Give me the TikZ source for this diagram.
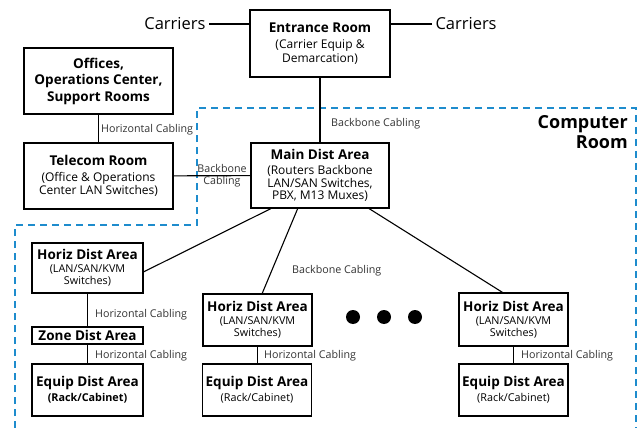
\documentclass[tikz,border=0pt]{standalone}
\usepackage{fontspec}
\setmainfont{Open Sans}
\usepackage{xcolor}
\definecolor{roomblue}{RGB}{30,140,205}
% text sizes used inside the boxes
\newcommand{\ttl}[1]{{\fontsize{13.5}{15}\selectfont\bfseries #1}}
\newcommand{\subt}[1]{{\fontsize{12}{13}\selectfont #1}}
\newcommand{\smallt}[1]{{\fontsize{10.8}{12}\selectfont #1}}

\begin{document}
\begin{tikzpicture}[x=1pt, y=-1pt,
  box/.style={draw, line width=1.1pt, align=center, inner sep=0pt},
  wire/.style={line width=1.1pt},
  lbl/.style={font=\fontsize{10.7}{12}\selectfont, text=black!80, inner sep=1pt},
  room/.style={draw=roomblue, line width=2.4pt, dash pattern=on 7pt off 5pt}]

\useasboundingbox (0,0) rectangle (638,428);

% Computer room outline
\draw[room] (15,428) -- (15,225) -- (197,225) -- (197,108) -- (636,108) -- (636,428);
\node[font=\fontsize{18}{20}\selectfont\bfseries, align=right, anchor=north east, inner sep=0pt] (comp) at (628,115) {Computer\\Room};

% Top row
\node[box, minimum width=140, minimum height=67] (entrance) at (320,43.5) {\ttl{Entrance Room}\\[4pt]\subt{(Carrier Equip \&}\\[1.5pt]\subt{Demarcation)}};
\node[font=\fontsize{16.5}{19}\selectfont, anchor=east] (carL) at (209,24) {Carriers};
\node[font=\fontsize{16.5}{19}\selectfont, anchor=west] (carR) at (432,24) {Carriers};
\draw[wire] (carL.east) -- (carL.east -| entrance.west);
\draw[wire] (carR.west) -- (carR.west -| entrance.east);

% Left column
\node[box, minimum width=149, minimum height=66] (offices) at (98.5,81) {\ttl{Offices,}\\[4pt]\ttl{Operations Center,}\\[3pt]\ttl{Support Rooms}};
\node[box, minimum width=149, minimum height=66] (telecom) at (98.5,176) {\ttl{Telecom Room}\\[4pt]\subt{(Office \& Operations}\\[1.5pt]\subt{Center LAN Switches)}};
\draw[wire] (offices) -- (telecom);
\node[lbl, anchor=west] (hc1) at (100,130) {Horizontal Cabling};

% Main distribution area
\node[box, minimum width=138, minimum height=65] (main) at (320,175.5) {\ttl{Main Dist Area}\\[3pt]\subt{(Routers Backbone}\\[0.5pt]\subt{LAN/SAN Switches,}\\[0.5pt]\subt{PBX, M13 Muxes)}};
\draw[wire] (entrance) -- (main);
\node[lbl, anchor=west] (bb1) at (330,124) {Backbone Cabling};
\draw[wire] (telecom) -- (main);
\node[lbl, align=center] (bb2) at (222,176) {Backbone\\Cabling};

% Horizontal distribution areas
\node[box, minimum width=111, minimum height=50] (hda1) at (87.5,268) {\ttl{Horiz Dist Area}\\[1pt]\smallt{(LAN/SAN/KVM}\\\smallt{Switches)}};
\node[box, minimum width=109, minimum height=52] (hda2) at (257.5,320) {\ttl{Horiz Dist Area}\\[1pt]\smallt{(LAN/SAN/KVM}\\\smallt{Switches)}};
\node[box, minimum width=109, minimum height=53] (hda3) at (513.5,319.5) {\ttl{Horiz Dist Area}\\[1pt]\smallt{(LAN/SAN/KVM}\\\smallt{Switches)}};
\draw[wire] (main.214) -- (hda1.-4);
\draw[wire] (main.236) -- (hda2.80);
\draw[wire] (main.326) -- (hda3.112);
\node[lbl, anchor=west] (bb3) at (291,271) {Backbone Cabling};

% more areas
\foreach \x in {353,384,415}
  \fill (\x,317) circle (7);

% Zone and equipment areas
\node[box, minimum width=111, minimum height=17] (zda) at (87.5,335.5) {\ttl{Zone Dist Area}};
\node[box, minimum width=111, minimum height=52] (eda1) at (87.5,390) {\ttl{Equip Dist Area}\\[3pt]\smallt{\bfseries(Rack/Cabinet)}};
\node[box, minimum width=109, minimum height=52] (eda2) at (257,390) {\ttl{Equip Dist Area}\\[3pt]\smallt{(Rack/Cabinet)}};
\node[box, minimum width=109, minimum height=52] (eda3) at (513.5,390) {\ttl{Equip Dist Area}\\[3pt]\smallt{(Rack/Cabinet)}};
\draw[wire] (hda1) -- (zda);
\draw[wire] (zda) -- (eda1);
\draw[wire] (hda2.south) -- (hda2.south |- eda2.north);
\draw[wire] (hda3) -- (eda3);
\node[lbl, anchor=west] (hc2) at (94,315) {Horizontal Cabling};
\node[lbl, anchor=west] (hc3) at (94,356) {Horizontal Cabling};
\node[lbl, anchor=west] (hc4) at (263,356) {Horizontal Cabling};
\node[lbl, anchor=west] (hc5) at (520,356) {Horizontal Cabling};

\end{tikzpicture}
\end{document}
